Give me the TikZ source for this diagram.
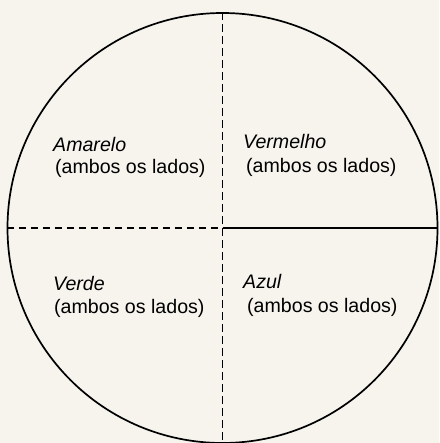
\documentclass[tikz,border=0pt]{standalone}
\usepackage{fontspec}
\setmainfont{Liberation Sans}
\definecolor{paper}{RGB}{246,244,237}
\begin{document}
\begin{tikzpicture}[x=1pt,y=-1pt,
  ink/.style={line width=1.7pt, draw=black},
  dashline/.style={ink, dash pattern=on 7.5pt off 4.5pt},
  lab/.style={anchor=base west, inner sep=0pt, font=\fontsize{19.6}{23}\selectfont, align=left}]
\fill[paper] (0,0) rectangle (439,443);
\useasboundingbox (0,0) rectangle (439,443);
\node[ink, circle, minimum size=430pt, inner sep=0pt] (c) at (222.5,228) {};
\draw[dashline] (c.north) -- (c.south);
\draw[dashline] (c.west) -- (c.center);
\draw[ink] (c.center) -- (c.east);
\node[lab] (amarelo) at (53,152) {\textit{Amarelo}};
\node[lab] (amareloL) at (55,174) {(ambos os lados)};
\node[lab] (vermelho) at (243,149) {\textit{Vermelho}};
\node[lab] (vermelhoL) at (246,173) {(ambos os lados)};
\node[lab] (verde) at (53,290) {\textit{Verde}};
\node[lab] (verdeL) at (54,313) {(ambos os lados)};
\node[lab] (azul) at (243,288) {\textit{Azul}};
\node[lab] (azulL) at (247,312) {(ambos os lados)};
\end{tikzpicture}
\end{document}
